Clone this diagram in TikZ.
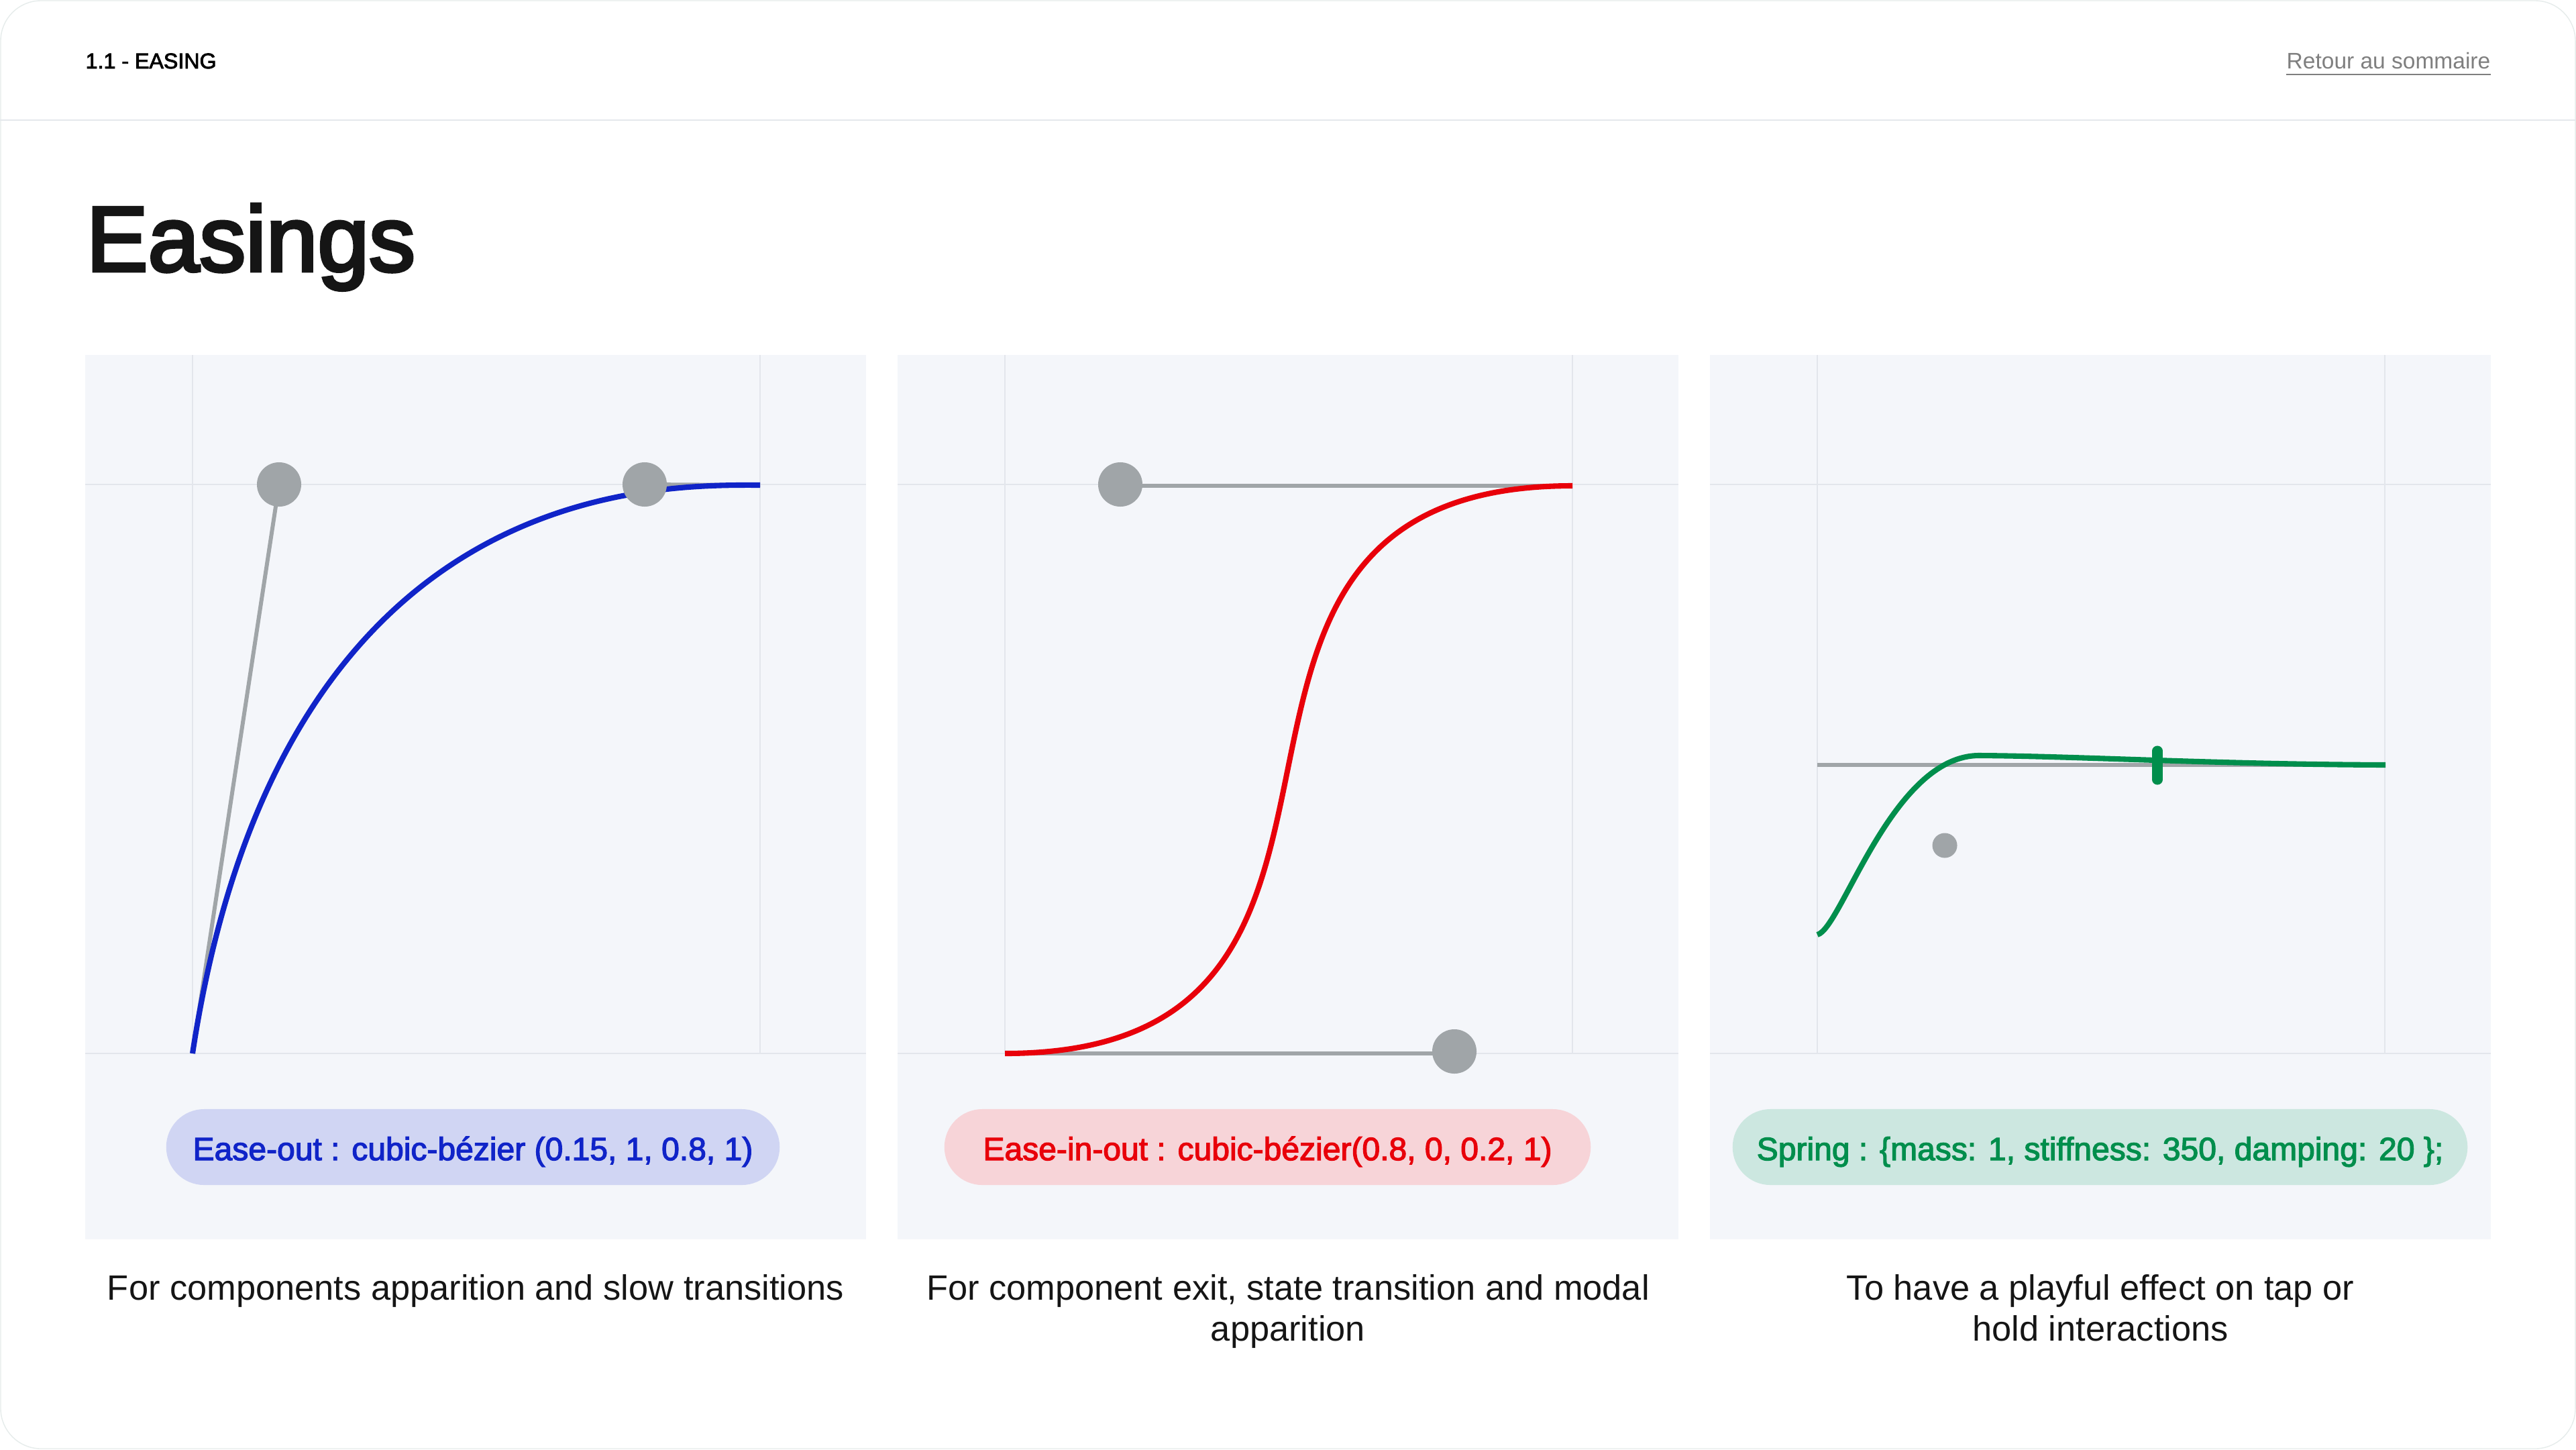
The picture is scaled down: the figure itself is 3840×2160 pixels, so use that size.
\documentclass[tikz,border=0pt]{standalone}
\usepackage{fontspec}
\setmainfont{Liberation Sans}
\newfontfamily\medfont[FakeBold=2.6]{Liberation Sans}
\newfontfamily\titlefont[FakeBold=3.5]{Liberation Sans}
\definecolor{cblue}{HTML}{1024C8}
\definecolor{cred}{HTML}{E8000A}
\definecolor{cgreen}{HTML}{008E4C}
\definecolor{handlec}{HTML}{A0A5A8}
\definecolor{pillblue}{HTML}{D0D5F3}
\definecolor{pillred}{HTML}{F7D4D8}
\definecolor{pillgreen}{HTML}{CCE7E0}
\definecolor{panelbg}{HTML}{F4F6FA}
\definecolor{gridc}{HTML}{E3E6EC}
\definecolor{sepc}{HTML}{E4E8EC}
\definecolor{cardc}{HTML}{E6ECEB}
\definecolor{linkc}{HTML}{7F7F7F}
\definecolor{textc}{HTML}{151515}
\begin{document}
\begin{tikzpicture}[x=0.01cm,y=-0.01cm,
  gridline/.style={draw=gridc, line width=0.57pt},
  handle/.style={draw=handlec, line width=1.7pt},
  knob/.style={circle, fill=handlec, minimum size=0.66cm, inner sep=0pt},
  curve/.style={line width=2.3pt},
  pill/.style={rounded corners=0.565cm, minimum height=1.13cm, inner sep=0pt},
  pilltext/.style={font=\medfont\fontsize{13.66pt}{16pt}\selectfont, inner sep=0pt, anchor=base},
  caption/.style={font=\fontsize{14.9pt}{17.36pt}\selectfont, text=textc, inner sep=0pt, anchor=base},
  smalltext/.style={font=\medfont\fontsize{9.15pt}{11pt}\selectfont, inner sep=0pt}
]
\useasboundingbox (0,0) rectangle (3840,2160);
\fill[white] (0,0) rectangle (3840,2160);
\draw[cardc, line width=0.4pt, rounded corners=0.6cm] (1,1) rectangle (3839,2159);

% header
\node[smalltext, anchor=base west, text=black] (hdr) at (127,102) {1.1 - EASING};
\node[smalltext, anchor=base east, text=linkc, font=\fontsize{9.53pt}{11pt}\selectfont] (back) at (3713,102) {Retour au sommaire};
\draw[linkc, line width=0.57pt] ([yshift=-0.08cm]back.south west) -- ([yshift=-0.08cm]back.south east);
\draw[sepc, line width=0.6pt] (0,179) -- (3840,179);

% title
\node[anchor=base west, inner sep=0pt, text=textc, font=\titlefont\fontsize{39.2pt}{46pt}\selectfont] (title) at (128,404) {Easings};

% panels
\foreach \L in {127,1338,2549}{
  \fill[panelbg] (\L,529) rectangle ({\L+1164},1847);
  \draw[gridline] ({\L+160},529) -- ({\L+160},1570);
  \draw[gridline] ({\L+1006},529) -- ({\L+1006},1570);
  \draw[gridline] (\L,722) -- ({\L+1164},722);
  \draw[gridline] (\L,1570) -- ({\L+1164},1570);
}

% panel 1 : ease-out
\coordinate (b0) at (287,1570);
\coordinate (b1) at (1133,723);
\coordinate (bc1) at (416,722);
\coordinate (bc2) at (961,722);
\draw[handle] (b0) -- (bc1);
\draw[handle] (b1) -- (bc2);
\draw[curve, cblue] (b0) .. controls (bc1) and (bc2) .. (b1);
\node[knob] (bk1) at (bc1) {};
\node[knob] (bk2) at (bc2) {};

% panel 2 : ease-in-out
\coordinate (r0) at (1498,1570);
\coordinate (r1) at (2344,724);
\coordinate (rc1) at (2170,1570);
\coordinate (rc2) at (1668,724);
\draw[handle] (r0) -- (rc1);
\draw[handle] (r1) -- (rc2);
\draw[curve, cred] (r0) .. controls (rc1) and (rc2) .. (r1);
\node[knob] (rk1) at (2168,1567) {};
\node[knob] (rk2) at (1670,722) {};

% panel 3 : spring
\coordinate (g0) at (2709,1393);
\coordinate (gpk) at (2951,1126);
\coordinate (g1) at (3556,1140);
\coordinate (gl0) at (2709,1140);
\draw[handle] (gl0) -- (g1);
\node[circle, fill=handlec, minimum size=0.37cm, inner sep=0pt] (gdot) at (2899,1260) {};
\draw[curve, cgreen] (g0) .. controls (2745,1385) and (2820,1125) .. (gpk)
  .. controls (3100,1127) and (3300,1139) .. (g1);
\coordinate (gt0) at (3216,1119);
\coordinate (gt1) at (3216,1162);
\draw[cgreen, line width=4.3pt, line cap=round] (gt0) -- (gt1);

% pills
\node[pill, fill=pillblue, minimum width=9.14cm] (pill1) at (705,1709.5) {};
\node[pilltext, text=cblue] (pt1) at (705,1729) {Ease-out : cubic-bézier (0.15, 1, 0.8, 1)};
\node[pill, fill=pillred, minimum width=9.63cm] (pill2) at (1889.5,1709.5) {};
\node[pilltext, text=cred] (pt2) at (1889.5,1729) {Ease-in-out : cubic-bézier(0.8, 0, 0.2, 1)};
\node[pill, fill=pillgreen, minimum width=10.95cm] (pill3) at (3130.5,1709.5) {};
\node[pilltext, text=cgreen] (pt3) at (3130.5,1729) {Spring : \{mass: 1, stiffness: 350, damping: 20 \};};

% captions
\node[caption] (cap1) at (709,1937) {For components apparition and slow transitions};
\node[caption] (cap2) at (1920,1937) {\parbox[t]{11.8cm}{\centering For component exit, state transition and modal\\ apparition}};
\node[caption] (cap3) at (3131,1937) {\parbox[t]{11.8cm}{\centering To have a playful effect on tap or\\ hold interactions}};
\end{tikzpicture}
\end{document}
